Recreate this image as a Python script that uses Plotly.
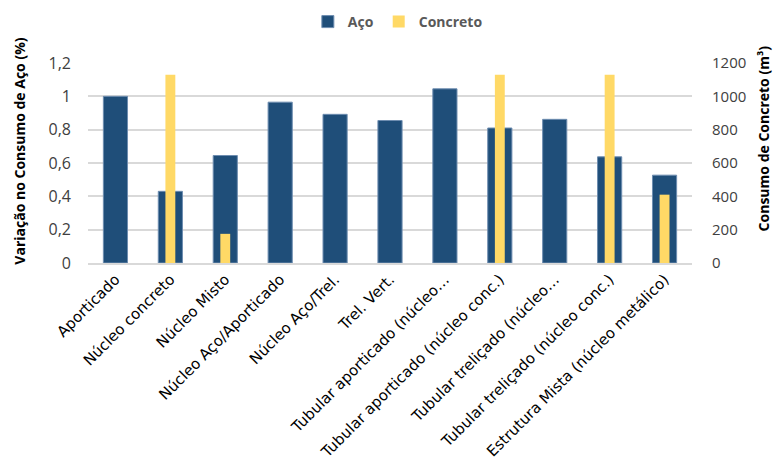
import plotly.graph_objects as go

# Dados
categorias = [
    "Aporticado",
    "Núcleo concreto",
    "Núcleo Misto",
    "Núcleo Aço/Aporticado",
    "Núcleo Aço/Trel.",
    "Trel. Vert.",
    "Tubular aporticado (núcleo…",
    "Tubular aporticado (núcleo conc.)",
    "Tubular treliçado (núcleo…",
    "Tubular treliçado (núcleo conc.)",
    "Estrutura Mista (núcleo metálico)",
]
aco = [1.0, 0.43, 0.645, 0.965, 0.892, 0.855, 1.045, 0.81, 0.862, 0.637, 0.527]
concreto = [None, 1130, 175, None, None, None, None, 1130, None, 1130, 410]

ticks_aco = [0, 0.2, 0.4, 0.6, 0.8, 1.0, 1.2]
ticks_aco_txt = ["0", "0,2", "0,4", "0,6", "0,8", "1", "1,2"]
ticks_conc = [0, 200, 400, 600, 800, 1000, 1200]
ticks_conc_txt = ["0", "200", "400", "600", "800", "1000", "1200"]

FONTE = "Open Sans"
FONTE_X = "DejaVu Sans"

fig = go.Figure()

# Aço (eixo esquerdo)
fig.add_trace(go.Bar(
    x=categorias,
    y=aco,
    name="Aço",
    width=0.44,
    marker=dict(color="#1F4E79", line=dict(color="#6E8DB0", width=1)),
    yaxis="y",
))

# Concreto (eixo direito)
fig.add_trace(go.Bar(
    x=categorias,
    y=concreto,
    name="Concreto",
    width=0.18,
    marker=dict(color="#FFD966", line=dict(width=0)),
    yaxis="y2",
))

# Títulos dos eixos
fig.add_annotation(
    text="<b>Variação no Consumo de Aço (%)</b>",
    xref="paper", yref="paper", x=-0.114, y=0.5575,
    xanchor="center", yanchor="middle", textangle=-90, showarrow=False,
    font=dict(family=FONTE, size=14, color="#000000"),
)
fig.add_annotation(
    text="<b>Consumo de Concreto (m³)</b>",
    xref="paper", yref="paper", x=1.119, y=0.6225,
    xanchor="center", yanchor="middle", textangle=-90, showarrow=False,
    font=dict(family=FONTE, size=14, color="#000000"),
)

fig.update_layout(
    width=777,
    height=460,
    barmode="overlay",
    margin=dict(l=87.5, r=84.5, t=63, b=197, autoexpand=False),
    paper_bgcolor="white",
    plot_bgcolor="white",
    font=dict(family=FONTE, size=14, color="#000000"),
    showlegend=True,
    xaxis=dict(
        automargin=False,
        tickangle=-45,
        tickfont=dict(family=FONTE_X, size=15, color="#000000"),
        showline=True,
        linecolor="#D9D9D9",
        linewidth=1.5,
        ticks="",
    ),
    yaxis=dict(
        automargin=False,
        range=[0, 1.2],
        tickvals=ticks_aco,
        ticktext=ticks_aco_txt,
        tickfont=dict(family=FONTE, size=16, color="#404040"),
        ticklabelstandoff=16,
        showgrid=True,
        gridcolor="#D9D9D9",
        gridwidth=1.5,
        zeroline=False,
    ),
    yaxis2=dict(
        automargin=False,
        range=[0, 1200],
        tickvals=ticks_conc,
        ticktext=ticks_conc_txt,
        tickfont=dict(family=FONTE, size=15, color="#404040"),
        ticklabelstandoff=19,
        overlaying="y",
        side="right",
        showgrid=False,
        zeroline=False,
    ),
    legend=dict(
        orientation="h",
        x=0.513,
        xanchor="center",
        y=1.205,
        yanchor="middle",
        font=dict(family=FONTE, size=14, color="#595959", weight="bold"),
        itemwidth=30,
        tracegroupgap=0,
    ),
)

# sem margem no body para a figura ocupar a janela inteira
fig.write_html(
    "out.html",
    config={"displayModeBar": False},
    post_script="document.body.style.margin='0';",
)
